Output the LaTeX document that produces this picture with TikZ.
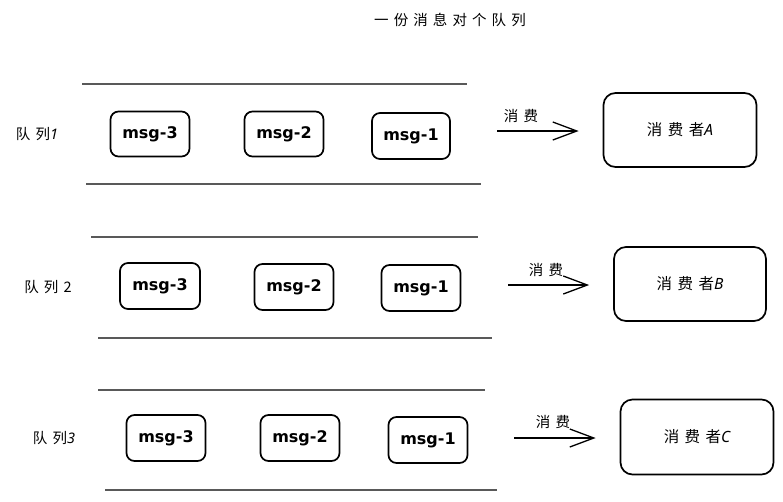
\documentclass[tikz,border=0pt]{standalone}
\usetikzlibrary{arrows.meta}
\usepackage{fontspec}
\setmainfont{Noto Sans}
\newfontfamily\cjk[LetterSpace=35]{Noto Sans CJK SC}
\newfontfamily\msgfont{DejaVu Sans}
\newcommand{\lat}[1]{{\rmfamily\itshape #1}}
\begin{document}
\begin{tikzpicture}[x=1pt,y=-1pt,
  msgbox/.style={draw=black, line width=1.7pt, rounded corners=8pt, font=\msgfont\bfseries\fontsize{16}{17}\selectfont},
  consumer/.style={draw=black, line width=1.7pt, rounded corners=12pt, font=\cjk\fontsize{15.5}{17}\selectfont},
  lane/.style={draw=black!65, line width=1.3pt},
  qlabel/.style={font=\cjk\fontsize{14.5}{16}\selectfont},
  flow/.style={line width=1.3pt, shorten >=24pt, -{Straight Barb[length=24pt,width=18pt,line width=1.3pt]}},
  every node/.style={inner sep=0pt}]
\useasboundingbox (0,0) rectangle (783,501);
\node[qlabel] (title) at (450,20) {一份消息对个队列};

% Row 1
\coordinate (l1a) at (82,84); \coordinate (l1b) at (467,84);
\coordinate (l1c) at (86,184); \coordinate (l1d) at (481,184);
\draw[lane] (l1a) -- (l1b);
\draw[lane] (l1c) -- (l1d);
\node[qlabel] (q1) at (37,134) {队列\lat{1}};
\node[msgbox, minimum width=79pt, minimum height=45pt] (m13) at (150,134) {msg-3};
\node[msgbox, minimum width=79pt, minimum height=45pt] (m12) at (284,134) {msg-2};
\node[msgbox, minimum width=78pt, minimum height=46pt] (m11) at (411,136) {msg-1};
\node[consumer, minimum width=153pt, minimum height=74pt] (cA) at (680,130) {消费者\lat{A}};
\coordinate (a1s) at (497,131);
\draw[flow] (a1s) -- (a1s -| cA.west);
\node[qlabel] (t1) at (521,116) {消费};

% Row 2
\coordinate (l2a) at (91,237); \coordinate (l2b) at (478,237);
\coordinate (l2c) at (98,338); \coordinate (l2d) at (492,338);
\draw[lane] (l2a) -- (l2b);
\draw[lane] (l2c) -- (l2d);
\node[qlabel] (q2) at (48,287) {队列2};
\node[msgbox, minimum width=80pt, minimum height=46pt] (m23) at (160,286) {msg-3};
\node[msgbox, minimum width=79pt, minimum height=46pt] (m22) at (294,287) {msg-2};
\node[msgbox, minimum width=79pt, minimum height=46pt] (m21) at (421,288) {msg-1};
\node[consumer, minimum width=152pt, minimum height=74pt] (cB) at (690,284) {消费者\lat{B}};
\coordinate (a2s) at (508,285);
\draw[flow] (a2s) -- (a2s -| cB.west);
\node[qlabel] (t2) at (546,270) {消费};

% Row 3
\coordinate (l3a) at (98,390); \coordinate (l3b) at (485,390);
\coordinate (l3c) at (105,490); \coordinate (l3d) at (497,490);
\draw[lane] (l3a) -- (l3b);
\draw[lane] (l3c) -- (l3d);
\node[qlabel] (q3) at (54,438) {队列\lat{3}};
\node[msgbox, minimum width=79pt, minimum height=46pt] (m33) at (166,438) {msg-3};
\node[msgbox, minimum width=79pt, minimum height=46pt] (m32) at (300,438) {msg-2};
\node[msgbox, minimum width=79pt, minimum height=46pt] (m31) at (428,440) {msg-1};
\node[consumer, minimum width=153pt, minimum height=75pt] (cC) at (697,437) {消费者\lat{C}};
\coordinate (a3s) at (514,438);
\draw[flow] (a3s) -- (a3s -| cC.west);
\node[qlabel] (t3) at (553,422) {消费};
\end{tikzpicture}
\end{document}
